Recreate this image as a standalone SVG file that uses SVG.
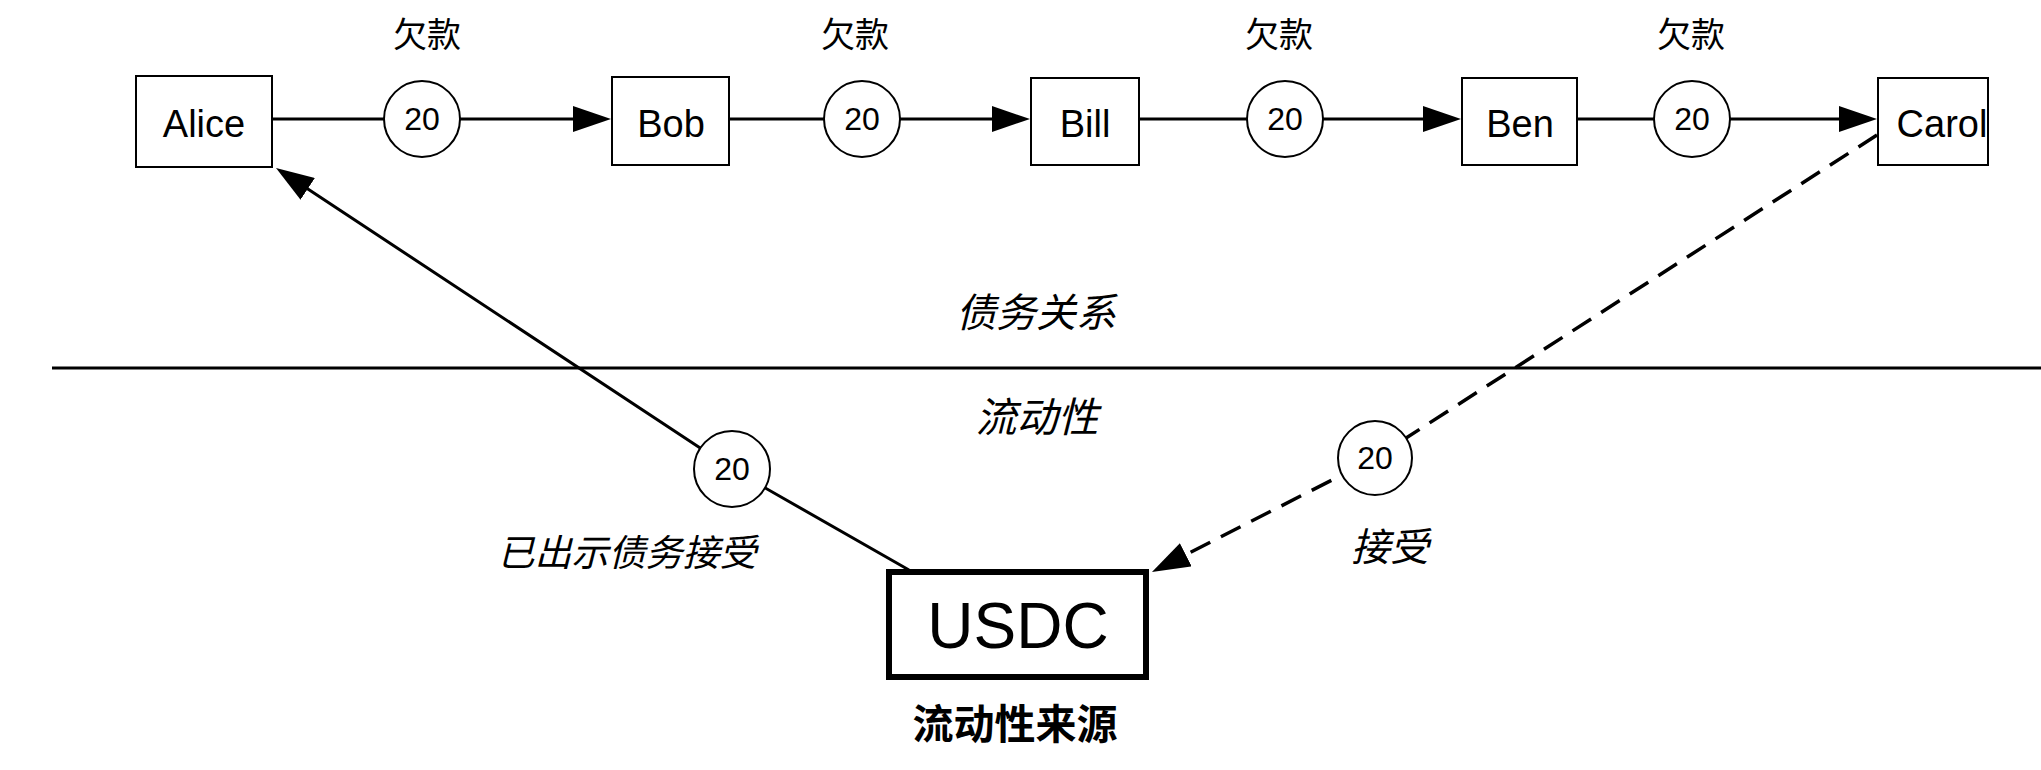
<svg xmlns="http://www.w3.org/2000/svg" width="2041" height="770" viewBox="0 0 2041 770">
<style>
.box{fill:#fff;stroke:#000;stroke-width:2}
.bold{fill:#fff;stroke:#000;stroke-width:6}
.lbl{font-family:"Liberation Sans",Arial,sans-serif;font-size:38px;text-anchor:middle;fill:#000}
.big{font-size:64px}
.num{font-family:"Liberation Sans",Arial,sans-serif;font-size:32px;text-anchor:middle;fill:#000}
.cjk{font-family:"Noto Sans CJK SC","Noto Sans",sans-serif;text-anchor:middle;fill:#000}
.it{font-style:italic}
.edge{fill:none;stroke:#000;stroke-width:3}
.dash{stroke-dasharray:22 12;stroke-width:3.5}
.tag{fill:#fff;stroke:#000;stroke-width:2}
</style>
<defs>
<marker id="arr" markerUnits="userSpaceOnUse" markerWidth="38" markerHeight="26" refX="32" refY="13" orient="auto" viewBox="0 0 38 26">
<path d="M0,0 L38,13 L0,26 z" fill="#000"/>
</marker>
</defs>
<rect width="2041" height="770" fill="#fff"/>

<line x1="52" y1="368" x2="2041" y2="368" stroke="#000" stroke-width="3"/>
<text class="cjk it" x="1036" y="327" font-size="40">债务关系</text>
<text class="cjk it" x="1037" y="432" font-size="41">流动性</text>

<g id="connectors">
<line class="edge" x1="272" y1="119" x2="605" y2="119" marker-end="url(#arr)"/>
<line class="edge" x1="729" y1="119" x2="1024" y2="119" marker-end="url(#arr)"/>
<line class="edge" x1="1139" y1="119" x2="1455" y2="119" marker-end="url(#arr)"/>
<line class="edge" x1="1577" y1="119" x2="1871" y2="119" marker-end="url(#arr)"/>
<polyline class="edge" points="909,570 732,469 281,171.3" marker-end="url(#arr)"/>
<polyline class="edge dash" points="1877,135 1375,458 1157.3,569.3" marker-end="url(#arr)"/>
<g id="edge-labels">
<circle class="tag" cx="422" cy="119" r="38"/><text class="num" x="422" y="130">20</text>
<circle class="tag" cx="862" cy="119" r="38"/><text class="num" x="862" y="130">20</text>
<circle class="tag" cx="1285" cy="119" r="38"/><text class="num" x="1285" y="130">20</text>
<circle class="tag" cx="1692" cy="119" r="38"/><text class="num" x="1692" y="130">20</text>
<circle class="tag" cx="732" cy="469" r="38"/><text class="num" x="732" y="480">20</text>
<circle class="tag" cx="1375" cy="458" r="37"/><text class="num" x="1375" y="469">20</text>
<text class="cjk" x="427" y="47" font-size="34">欠款</text>
<text class="cjk" x="855" y="47" font-size="34">欠款</text>
<text class="cjk" x="1279" y="47" font-size="34">欠款</text>
<text class="cjk" x="1691" y="47" font-size="34">欠款</text>
<text class="cjk it" x="627" y="566" font-size="37">已出示债务接受</text>
<text class="cjk it" x="1390" y="561" font-size="39">接受</text>
</g>
</g>

<g id="alice"><rect class="box" x="136" y="76" width="136" height="91"/><text class="lbl" x="204" y="137">Alice</text></g>
<g id="bob"><rect class="box" x="612" y="77" width="117" height="88"/><text class="lbl" x="671" y="137">Bob</text></g>
<g id="bill"><rect class="box" x="1031" y="78" width="108" height="87"/><text class="lbl" x="1085" y="137">Bill</text></g>
<g id="ben"><rect class="box" x="1462" y="78" width="115" height="87"/><text class="lbl" x="1520" y="137">Ben</text></g>
<g id="carol"><rect class="box" x="1878" y="78" width="110" height="87"/><text class="lbl" x="1942" y="137">Carol</text></g>
<g id="usdc"><rect class="bold" x="889" y="572" width="257" height="105"/><text class="lbl big" x="1018" y="648">USDC</text>
<text class="cjk" x="1015" y="739" font-size="41" font-weight="bold">流动性来源</text></g>
</svg>
